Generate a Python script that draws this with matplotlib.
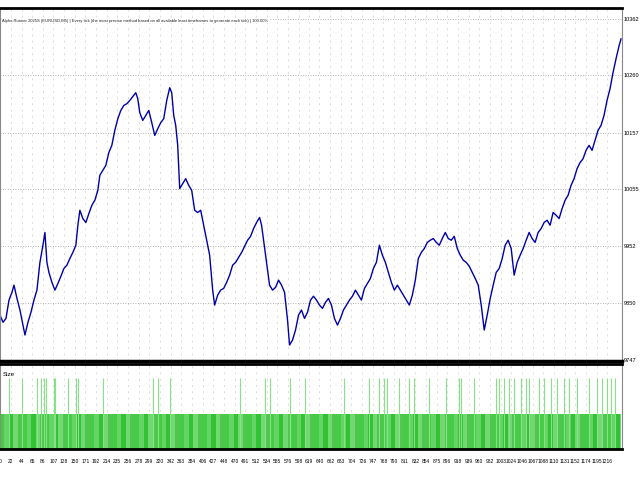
import matplotlib
matplotlib.use("Agg")
import matplotlib.pyplot as plt
import numpy as np

# ---- data ----
trades = [0, 6, 12, 18, 24, 28, 34, 40, 46, 50,
          56, 62, 68, 74, 80, 86, 90, 94, 98, 104,
          110, 116, 122, 128, 134, 140, 146, 152, 156, 160,
          166, 172, 178, 184, 190, 196, 200, 206, 212, 218,
          224, 230, 236, 242, 248, 254, 260, 266, 272, 276,
          280, 286, 292, 298, 304, 310, 316, 322, 328, 334,
          340, 344, 348, 352, 356, 360, 366, 372, 378, 384,
          390, 396, 402, 408, 414, 420, 426, 430, 436, 442,
          448, 454, 460, 466, 472, 478, 484, 490, 496, 502,
          508, 514, 520, 524, 528, 532, 536, 540, 546, 552,
          558, 564, 570, 576, 580, 586, 592, 598, 604, 610,
          616, 622, 628, 634, 640, 646, 652, 658, 664, 670,
          676, 682, 688, 694, 700, 706, 712, 718, 724, 730,
          736, 742, 748, 754, 760, 766, 772, 778, 784, 790,
          796, 802, 808, 814, 820, 826, 832, 838, 844, 850,
          856, 862, 868, 874, 880, 886, 892, 898, 904, 910,
          916, 922, 928, 934, 940, 946, 952, 958, 964, 970,
          976, 982, 988, 994, 1000, 1006, 1012, 1018, 1024, 1030,
          1036, 1042, 1048, 1054, 1060, 1066, 1072, 1078, 1084, 1090,
          1096, 1102, 1108, 1114, 1120, 1126, 1132, 1138, 1144, 1150,
          1156, 1162, 1168, 1174, 1180, 1186, 1192, 1198, 1204, 1210,
          1216, 1222, 1228, 1234, 1240, 1244]
balance = [9828, 9815, 9822, 9855, 9869, 9882, 9858, 9837, 9810, 9792,
           9815, 9833, 9855, 9873, 9923, 9954, 9977, 9923, 9905, 9887,
           9873, 9885, 9898, 9912, 9918, 9930, 9941, 9954, 9990, 10017,
           10002, 9995, 10011, 10026, 10035, 10053, 10080, 10089, 10098, 10121,
           10134, 10161, 10182, 10197, 10206, 10209, 10215, 10222, 10229, 10218,
           10193, 10179, 10188, 10197, 10175, 10152, 10164, 10175, 10182, 10215,
           10238, 10229, 10188, 10170, 10134, 10056, 10065, 10074, 10062, 10053,
           10017, 10013, 10017, 9990, 9963, 9936, 9873, 9846, 9864, 9873,
           9876, 9887, 9900, 9918, 9923, 9932, 9941, 9952, 9963, 9970,
           9984, 9995, 10004, 9990, 9963, 9936, 9909, 9882, 9873, 9878,
           9891, 9882, 9869, 9819, 9774, 9783, 9801, 9828, 9837, 9822,
           9833, 9855, 9862, 9855, 9846, 9840, 9851, 9858, 9846, 9822,
           9810, 9822, 9837, 9846, 9855, 9862, 9873, 9864, 9855, 9876,
           9885, 9894, 9912, 9923, 9954, 9936, 9923, 9905, 9887, 9873,
           9882, 9873, 9864, 9855, 9846, 9864, 9891, 9930, 9941, 9948,
           9959, 9963, 9966, 9959, 9954, 9966, 9977, 9966, 9963, 9970,
           9948, 9936, 9927, 9923, 9916, 9905, 9894, 9882, 9846, 9801,
           9828, 9858, 9882, 9905, 9912, 9930, 9954, 9963, 9948, 9900,
           9923, 9936, 9948, 9963, 9977, 9966, 9959, 9977, 9984, 9995,
           9999, 9990, 10013, 10008, 10002, 10020, 10035, 10044, 10062, 10074,
           10092, 10103, 10110, 10125, 10134, 10125, 10143, 10161, 10170, 10188,
           10215, 10236, 10265, 10290, 10313, 10326]

y_ticks = [9747, 9850, 9952, 10055, 10157, 10260, 10362]
x_tick_vals = [0, 22, 44, 65, 86, 107, 128, 150, 171, 192, 214, 235, 256, 278, 299,
               320, 342, 363, 384, 406, 427, 448, 470, 491, 512, 534, 555, 576, 598,
               619, 640, 662, 683, 704, 726, 747, 768, 790, 811, 832, 854, 875, 896,
               918, 939, 960, 982, 1003, 1024, 1046, 1067, 1088, 1110, 1131, 1152,
               1174, 1195, 1216]
big_size_trades = [18, 44, 74, 82, 88, 92, 108, 110, 136, 152, 156, 206, 306, 316, 340,
                   480, 530, 540, 580, 610, 690, 740, 760, 770, 776, 800, 820, 830,
                   860, 894, 920, 924, 950, 994, 1000, 1010, 1020, 1030, 1044, 1054,
                   1060, 1080, 1090, 1104, 1116, 1130, 1140, 1156, 1180, 1196, 1206,
                   1216, 1224, 1232]
n_trades = 1244

NARROW = ["Liberation Sans Narrow", "Liberation Sans", "DejaVu Sans"]

# ---- figure ----
W, H = 640, 480
fig = plt.figure(figsize=(6.4, 4.8), dpi=100)
fig.patch.set_facecolor("white")

def fx(px):
    return px / W

def fy(py):
    return 1 - py / H

n = min(len(trades), len(balance))
xmax = 1246
ax = fig.add_axes([0, fy(361), fx(622), fy(8) - fy(361)])
ax.plot(trades[:n], balance[:n], color="#0000aa", lw=1.0)
ax.set_xlim(0, xmax)
ax.set_ylim(9745.2, 10381.7)
ax.set_yticks(y_ticks)
ax.set_yticklabels([str(v) for v in y_ticks], fontsize=4.1, family=NARROW)
ax.yaxis.tick_right()
ax.tick_params(axis="y", length=0, pad=1.0)
ax.set_xticks(x_tick_vals)
ax.tick_params(axis="x", length=0, labelbottom=False)
ax.grid(axis="y", color="#999999", ls=(0, (1, 2)), lw=0.6)
ax.grid(axis="x", color="#d0d0d0", ls=(0, (3, 6)), lw=0.5)
ax.spines["top"].set_linewidth(2.0)
ax.spines["bottom"].set_linewidth(2.5)
for s in ["left", "right"]:
    ax.spines[s].set_color("#888888")
    ax.spines[s].set_linewidth(0.8)
ax.text(0.004, 0.97, "Alpha Runner 2025S (EURUSD,M5) | Every tick (the most precise method based on all available least timeframes to generate each tick) | 100.00%",
        transform=ax.transAxes, fontsize=3.0, va="top", ha="left", color="#222222",
        family=NARROW, bbox=dict(facecolor="white", edgecolor="none", pad=0.5))

# ---- size panel ----
bx = fig.add_axes([0, fy(449), fx(622), fy(364) - fy(449)])
shades = ["#44cc44", "#66d366", "#33c233", "#72d872", "#4fc74f"]
idx = np.arange(n_trades)
cols = [shades[(i // 9) % len(shades)] for i in idx]
bx.bar(idx, [0.45] * n_trades, width=1.0, color=cols, align="edge", lw=0)
bx.vlines(big_size_trades, 0, 0.9, color="#86e286", lw=0.8)
bx.set_xlim(0, xmax)
bx.set_ylim(0, 1.08)
bx.set_xticks(x_tick_vals)
bx.set_xticklabels([str(v) for v in x_tick_vals], fontsize=3.5, family=NARROW)
bx.tick_params(axis="x", length=0, pad=7)
bx.set_yticks([])
bx.grid(axis="x", color="#d0d0d0", ls=(0, (3, 6)), lw=0.5)
bx.set_axisbelow(True)
bx.spines["top"].set_linewidth(2.0)
bx.spines["bottom"].set_linewidth(2.0)
for s in ["left", "right"]:
    bx.spines[s].set_color("#888888")
    bx.spines[s].set_linewidth(0.8)
bx.text(0.004, 0.9, "Size", transform=bx.transAxes, fontsize=4.5, va="top", ha="left",
        family=NARROW)

fig.savefig("out.png", dpi=100)
